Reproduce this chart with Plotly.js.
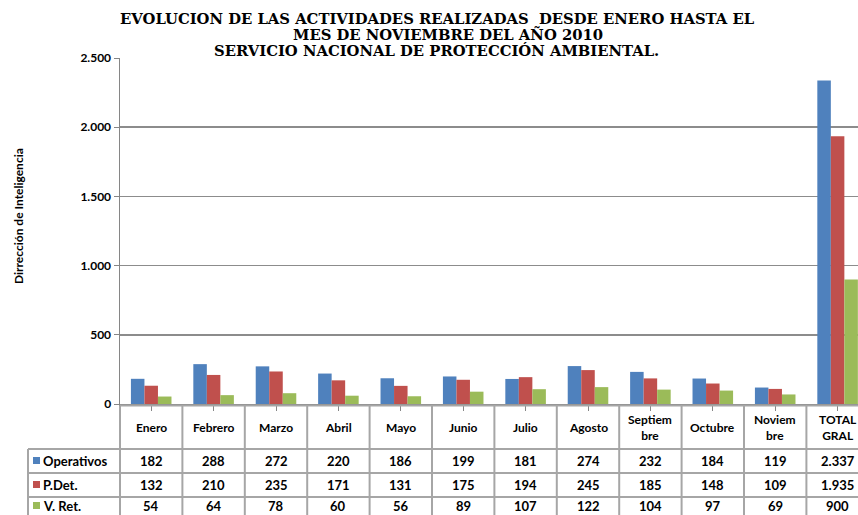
<!DOCTYPE html>
<html><head><meta charset="utf-8">
<script src="https://cdn.plot.ly/plotly-3.0.1.min.js"></script>
<style>html,body{margin:0;padding:0;background:#fff}#c{width:858px;height:515px}</style>
</head><body><div id="c"></div>
<script>
var titleLines = ["EVOLUCION DE LAS ACTIVIDADES REALIZADAS  DESDE ENERO HASTA EL","MES DE NOVIEMBRE DEL AÑO 2010","SERVICIO NACIONAL DE PROTECCIÓN AMBIENTAL."];
var categories = ["Enero","Febrero","Marzo","Abril","Mayo","Junio","Julio","Agosto","Septiem<br>bre","Octubre","Noviem<br>bre","TOTAL<br>GRAL"];
var seriesNames = ["Operativos","P.Det.","V. Ret."];
var operativos = [182,288,272,220,186,199,181,274,232,184,119,2337];
var pDet = [132,210,235,171,131,175,194,245,185,148,109,1935];
var vRet = [54,64,78,60,56,89,107,122,104,97,69,900];
var colors = ["#4F81BD","#C0504D","#9BBB59"];
var values = [operativos, pDet, vRet];

var W = 858, H = 515, L = 120, T = 58, B = 111;
var plotH = H - T - B, plotW = W - L;
function py(p){ return (H - B - p) / plotH; }
function px(p){ return (p - L) / plotW; }
function fmt(n){ return n >= 1000 ? Math.floor(n/1000) + '.' + String(n%1000).padStart(3,'0') : String(n); }

var idx = categories.map(function(_, i){ return i; });
var traces = values.map(function(v, s){
  return {type:'bar', x: idx, y: v, name: seriesNames[s], marker:{color: colors[s]}, hoverinfo:'none'};
});

var grid = '#a6a6a6';
var shapes = [], annotations = [];
shapes.push({type:'line', xref:'paper', yref:'paper', x0:0, x1:1.05, y0:py(405.5), y1:py(405.5), line:{color:grid, width:2}});
[449, 473, 497].forEach(function(p){
  shapes.push({type:'line', xref:'paper', yref:'paper', x0:px(28), x1:1.05, y0:py(p), y1:py(p), line:{color:grid, width:2}});
});
shapes.push({type:'line', xref:'paper', yref:'paper', x0:px(28), x1:px(28), y0:py(449), y1:py(530), line:{color:grid, width:2}});
shapes.push({type:'line', xref:'paper', yref:'paper', x0:0, x1:0, y0:py(405.5), y1:py(530), line:{color:grid, width:2}});
for (var k = 0; k < categories.length; k++) {
  shapes.push({type:'line', xref:'x', yref:'paper', x0:k+0.5, x1:k+0.5, y0:py(405.5), y1:py(530), line:{color:grid, width:2}});
}
var rowY = [461, 485, 506];
categories.forEach(function(c, i){
  annotations.push({xref:'x', yref:'paper', x:i, y:py(427), text:c, showarrow:false, xanchor:'center', yanchor:'middle',
    font:{family:'Lato', size:12, color:'#000', weight:700}});
  values.forEach(function(v, s){
    annotations.push({xref:'x', yref:'paper', x:i, y:py(rowY[s]), text:fmt(v[i]), showarrow:false, xanchor:'center', yanchor:'middle',
      font:{family:'Lato', size:13, color:'#000', weight:700}});
  });
});
seriesNames.forEach(function(n, s){
  shapes.push({type:'rect', xref:'paper', yref:'paper', x0:px(33), x1:px(40), y0:py(rowY[s]-4), y1:py(rowY[s]+3), fillcolor:colors[s], line:{width:0}});
  annotations.push({xref:'paper', yref:'paper', x:px(41), y:py(rowY[s]), text:n, showarrow:false, xanchor:'left', yanchor:'middle',
    font:{family:'Lato', size:13, color:'#000', weight:700}});
});
annotations.push({xref:'paper', yref:'paper', x:px(18), y:py(216), text:'Dirrección de Inteligencia', textangle:-90, showarrow:false,
  xanchor:'center', yanchor:'middle', font:{family:'Lato', size:12, color:'#000', weight:700}});
var titleX = [437, 448, 436], titleY = [18, 34, 50];
titleLines.forEach(function(t, i){
  annotations.push({xref:'paper', yref:'paper', x:px(titleX[i]), y:py(titleY[i]), text:t, showarrow:false,
    xanchor:'center', yanchor:'middle', font:{family:'DejaVu Serif', size:14.8, color:'#000', weight:700}});
});

var layout = {
  width: W, height: H,
  margin: {l:L, r:0, t:T, b:B, pad:0},
  paper_bgcolor:'#fff', plot_bgcolor:'#fff',
  separators: ',.',
  showlegend: false,
  barmode: 'group', bargap: 0.35, bargroupgap: 0,
  xaxis: {range:[-0.5, -0.5 + plotW/62.4], tickvals: idx, showticklabels:false, ticks:'outside', tickson:'boundaries', ticklen:5,
    tickcolor:'#868686', showline:true, linecolor:'#868686', linewidth:1.5, showgrid:false, zeroline:false, fixedrange:true},
  yaxis: {range:[0, 2500], dtick:500, tickformat:',d', ticks:'outside', ticklen:5, tickcolor:'#868686',
    showline:true, linecolor:'#868686', linewidth:1.5, showgrid:true, gridcolor:'#8c8c8c', gridwidth:1.5, zeroline:false,
    tickfont:{family:'Lato', size:12, color:'#000', weight:700}, fixedrange:true},
  shapes: shapes, annotations: annotations
};
Plotly.newPlot('c', traces, layout, {staticPlot:true});
</script></body></html>
